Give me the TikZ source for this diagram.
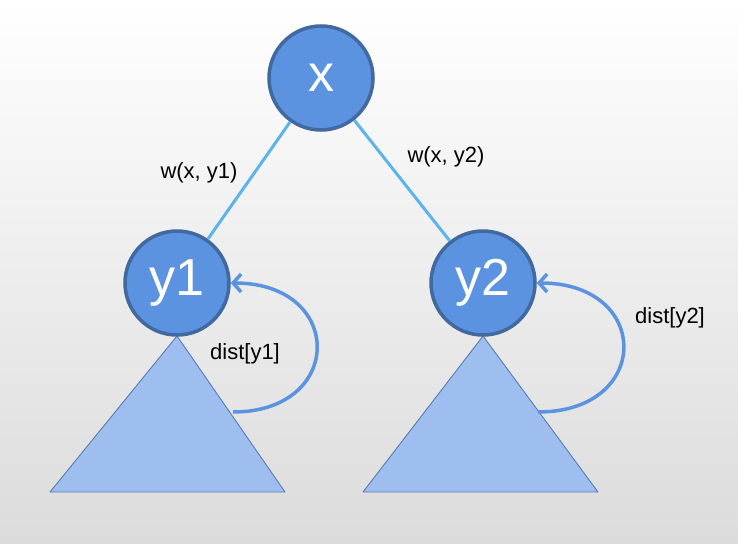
\documentclass[tikz,border=0pt]{standalone}
\usepackage{fontspec}
\setmainfont{Liberation Sans}
\usetikzlibrary{arrows.meta}
\definecolor{nodeblue}{HTML}{5B93E0}
\definecolor{nodeedge}{HTML}{41689F}
\definecolor{treeblue}{HTML}{9DBEEE}
\definecolor{treeedge}{HTML}{5B7AB0}
\definecolor{linkblue}{HTML}{5BB5E8}
\tikzset{
  vert/.style={circle,draw=nodeedge,fill=nodeblue,line width=3.5pt,minimum size=104pt,inner sep=0pt,text=white},
  subtree/.style={draw=treeedge,fill=treeblue,line width=0.9pt,line join=round},
  link/.style={draw=linkblue,line width=3pt},
  distarrow/.style={draw=nodeblue,line width=3.5pt,-{Straight Barb[length=8pt,width=18pt]}},
  lbl/.style={font=\fontsize{22}{24}\selectfont}
}
\begin{document}
\begin{tikzpicture}[x=1pt,y=-1pt]
\shade[top color=white,bottom color=black!14] (0,0) rectangle (738,543);
\useasboundingbox (0,0) rectangle (738,543);
% subtrees
\draw[subtree] (177,336) -- (285,492) -- (50,492) -- cycle;
\draw[subtree] (483,336) -- (598,492) -- (363,492) -- cycle;
% vertices
\node[vert,font=\fontsize{52}{52}\selectfont] (nx) at (321,78) {x};
\node[vert,font=\fontsize{52}{52}\selectfont] (ny1) at (177,283) {y1};
\node[vert,font=\fontsize{52}{52}\selectfont] (ny2) at (483,283) {y2};
\draw[link] (nx) -- (ny1);
\draw[link] (nx) -- (ny2);
\node[lbl] (w1) at (199,173) {w(x, y1)};
\node[lbl] (w2) at (446,157) {w(x, y2)};
% dist arrows
\coordinate (t1) at (233,412);
\coordinate (t2) at (538,412);
\draw[distarrow] (t1) .. controls (345,412) and (345,283) .. (ny1.east);
\draw[distarrow] (t2) .. controls (652,412) and (652,283) .. (ny2.east);
\node[lbl] (d1) at (245,354) {dist[y1]};
\node[lbl] (d2) at (670,318) {dist[y2]};
\end{tikzpicture}
\end{document}
